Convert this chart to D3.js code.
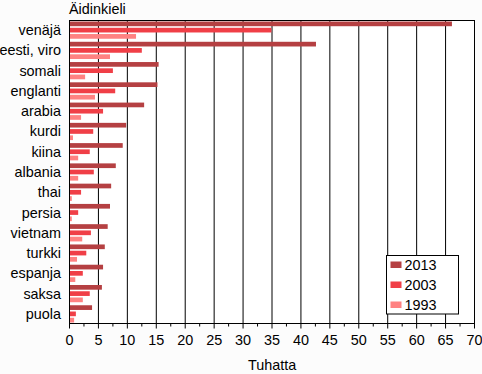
<!DOCTYPE html>
<html lang="fi">
<head>
<meta charset="UTF-8">
<title>Äidinkieli</title>
<script src="https://d3js.org/d3.v7.min.js"></script>
<style>
  body { margin: 0; background: #fcfcfc; }
  text { font-family: "Liberation Sans", Arial, sans-serif; font-size: 14.4px; fill: #000; }
</style>
</head>
<body>
<script>
// data (thousands)
var languages = ["venäjä", "eesti, viro", "somali", "englanti", "arabia", "kurdi", "kiina",
                 "albania", "thai", "persia", "vietnam", "turkki", "espanja", "saksa", "puola"];
var years = ["2013", "2003", "1993"];
var v2013 = [66.1, 42.6, 15.4, 15.2, 12.9, 9.8, 9.2, 8.0, 7.2, 7.0, 6.6, 6.1, 5.8, 5.6, 3.9];
var v2003 = [34.9, 12.5, 7.5, 7.9, 5.8, 4.1, 3.5, 4.2, 2.0, 1.5, 3.7, 2.9, 2.3, 3.5, 1.1];
var v1993 = [11.5, 7.0, 2.7, 4.4, 2.0, 0.6, 1.5, 1.5, 0.4, 0.4, 2.2, 1.3, 1.0, 2.3, 0.8];
var xTicks = d3.range(0, 71, 5);

var colors = {"2013": "#b54042", "2003": "#f03f47", "1993": "#ff8282"};
var series = {"2013": v2013, "2003": v2003, "1993": v1993};

var width = 482, height = 374;
var plotLeft = 69.5, plotRight = 474.5, plotTop = 20.5, plotBottom = 323.5;

var svg = d3.select("body").append("svg")
    .attr("width", width)
    .attr("height", height);

var x = d3.scaleLinear().domain([0, 70]).range([plotLeft, plotRight]);
var y = d3.scaleBand().domain(languages).range([plotTop, plotBottom])
    .paddingInner(0.15).paddingOuter(0.05);
var yInner = d3.scaleBand().domain(years).range([0, y.bandwidth()]).paddingInner(0.25);

// plot area
svg.append("rect")
    .attr("x", plotLeft).attr("y", plotTop)
    .attr("width", plotRight - plotLeft).attr("height", plotBottom - plotTop)
    .attr("fill", "#fff");

// gridlines
svg.append("g").selectAll("line")
    .data(xTicks.filter(function(d){ return d > 0 && d < 70; }))
    .enter().append("line")
    .attr("x1", x).attr("x2", x)
    .attr("y1", plotTop).attr("y2", plotBottom)
    .attr("stroke", "#000");

// bars
var groups = svg.append("g").selectAll("g")
    .data(languages)
    .enter().append("g")
    .attr("transform", function(d){ return "translate(0," + y(d) + ")"; });

groups.selectAll("rect")
    .data(function(d, i){
        return years.map(function(yr){ return {year: yr, value: series[yr][i]}; });
    })
    .enter().append("rect")
    .attr("x", x(0))
    .attr("y", function(d){ return yInner(d.year); })
    .attr("width", function(d){ return x(d.value) - x(0); })
    .attr("height", yInner.bandwidth())
    .attr("fill", function(d){ return colors[d.year]; });

// frame
svg.append("rect")
    .attr("x", plotLeft).attr("y", plotTop)
    .attr("width", plotRight - plotLeft).attr("height", plotBottom - plotTop)
    .attr("fill", "none").attr("stroke", "#000");

// x axis: major + minor ticks
svg.append("g").selectAll("line")
    .data(d3.range(0, 70.1, 2.5))
    .enter().append("line")
    .attr("x1", x).attr("x2", x)
    .attr("y1", plotBottom)
    .attr("y2", function(d){ return d % 5 === 0 ? plotBottom + 5 : plotBottom + 3; })
    .attr("stroke", "#000");

svg.append("g").selectAll("text")
    .data(xTicks)
    .enter().append("text")
    .attr("x", x)
    .attr("y", 345)
    .attr("text-anchor", "middle")
    .text(function(d){ return d; });

// category labels
svg.append("g").selectAll("text")
    .data(languages)
    .enter().append("text")
    .attr("x", 61)
    .attr("y", function(d){ return y(d) + y.bandwidth() / 2 + 5; })
    .attr("text-anchor", "end")
    .text(function(d){ return d; });

// titles
svg.append("text").attr("x", 69).attr("y", 13.5).text("Äidinkieli");
svg.append("text").attr("x", 248).attr("y", 370).text("Tuhatta");

// legend
var legend = svg.append("g").attr("transform", "translate(386.5,255.5)");
legend.append("rect")
    .attr("width", 72).attr("height", 58.5)
    .attr("fill", "#fff").attr("stroke", "#000");
var items = legend.selectAll("g.item")
    .data(years)
    .enter().append("g")
    .attr("transform", function(d, i){ return "translate(0," + (i * 20) + ")"; });
items.append("rect")
    .attr("x", 4).attr("y", 6)
    .attr("width", 11).attr("height", 6.5)
    .attr("fill", function(d){ return colors[d]; });
items.append("text")
    .attr("x", 18).attr("y", 14.5)
    .text(function(d){ return d; });
</script>
</body>
</html>
